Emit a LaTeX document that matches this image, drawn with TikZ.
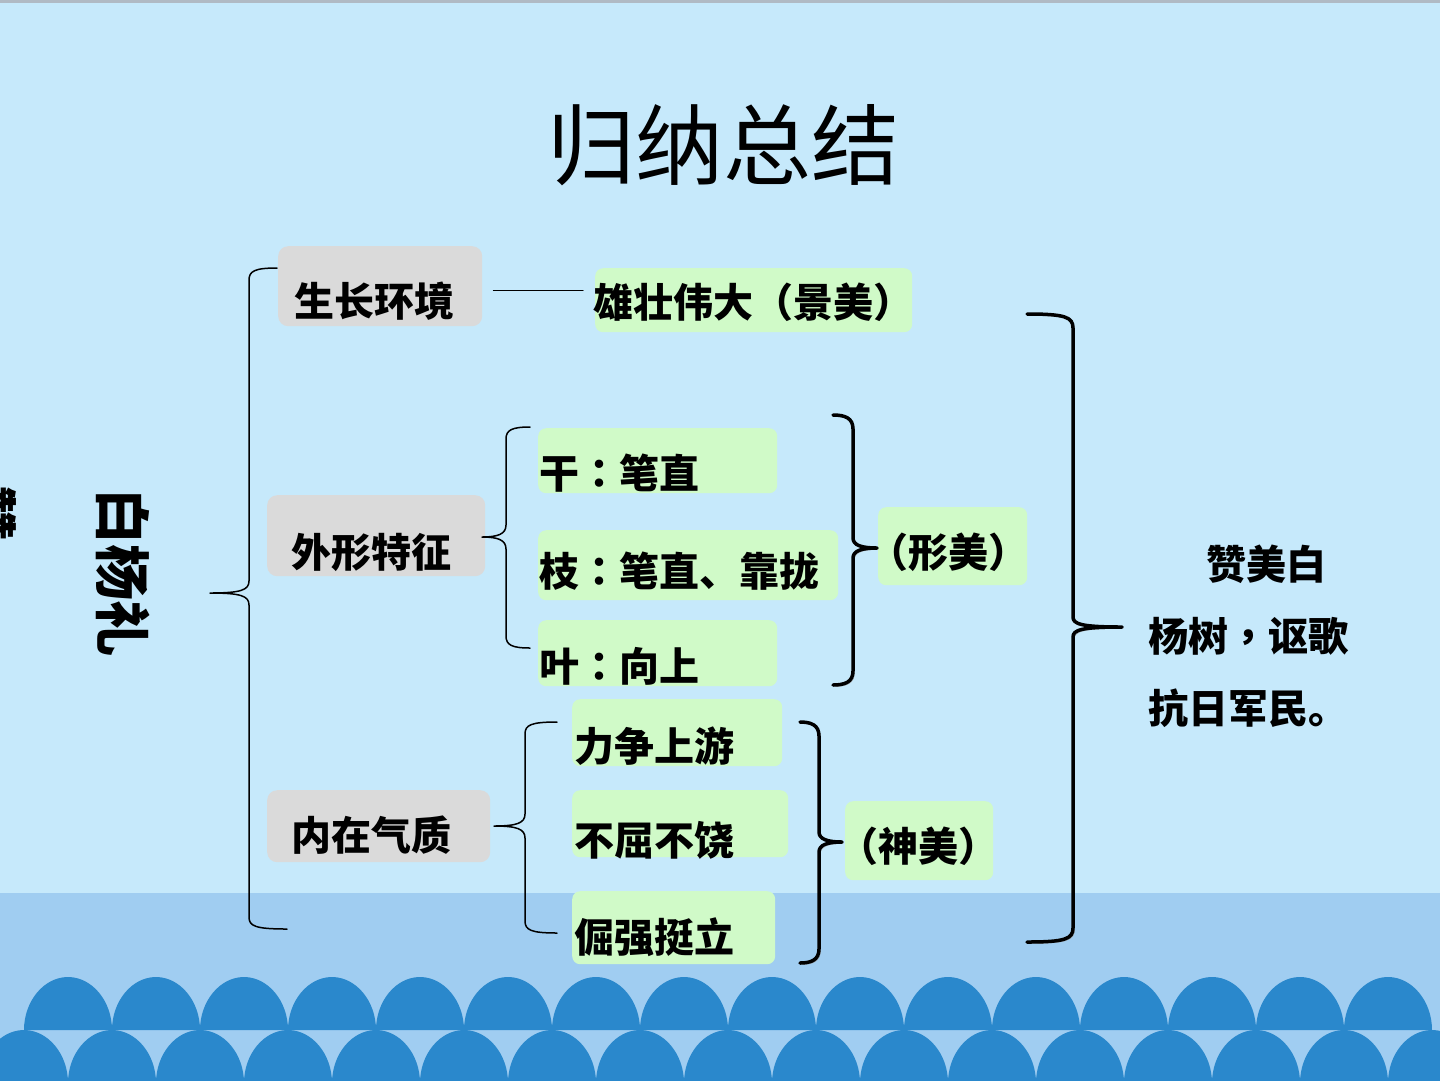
\documentclass[tikz,border=0pt]{standalone}
\usepackage{fontspec}
\newfontfamily\cjkfont{Noto Sans CJK SC}
\newfontfamily\cjkpunct{Noto Sans CJK TC}
\newcommand{\colonmark}{{\cjkpunct ：}}
\usepackage{tikz}
\usetikzlibrary{positioning,calc}
\definecolor{skyblue}{RGB}{198,233,251}
\definecolor{seablue}{RGB}{160,205,241}
\definecolor{wavec}{RGB}{42,136,204}
\definecolor{boxgray}{RGB}{218,218,218}
\definecolor{leafgreen}{RGB}{208,250,200}
\definecolor{edgegray}{RGB}{176,186,196}

\begin{document}
\begin{tikzpicture}[
  x=1pt, y=-1pt, line cap=round, line join=round,
  graybox/.style={rounded corners=10pt, fill=boxgray, anchor=north west, inner sep=0pt},
  greenbox/.style={rounded corners=8pt, fill=leafgreen, anchor=north west, inner sep=0pt},
  lab/.style={font={\cjkfont\bfseries\fontsize{40}{48}\selectfont}, inner sep=0pt, anchor=west},
  biglab/.style={font={\cjkfont\bfseries\fontsize{56}{64}\selectfont}, inner sep=0pt, rotate=-90},
  titlelab/.style={font={\cjkfont\fontsize{88}{100}\selectfont}, inner sep=0pt},
  thinbrace/.style={line width=1.5pt, draw=black},
  thickbrace/.style={line width=3.5pt, draw=black,
    preaction={draw=black!40, transform canvas={xshift=1.5pt, yshift=-1.5pt}}},
  link/.style={line width=1pt, draw=black}
]
  \useasboundingbox (0,0) rectangle (1440,1080);
  \clip (0,0) rectangle (1440,1080);

  % Background
  \fill[skyblue] (0,0) rectangle (1440,893);
  \fill[seablue] (0,893) rectangle (1440,1080);
  \fill[edgegray] (0,0) rectangle (1440,3);

  % Waves (two rows of arches)
  \foreach \i in {0,...,15}{
    \pgfmathsetmacro{\cx}{68+88*\i}
    \fill[wavec] (\cx-44,1030) .. controls (\cx-44,1001) and (\cx-24,977) .. (\cx,977)
      .. controls (\cx+24,977) and (\cx+44,1001) .. (\cx+44,1030) -- cycle;
  }
  \foreach \i in {0,...,16}{
    \pgfmathsetmacro{\cx}{24+88*\i}
    \fill[wavec] (\cx-44,1083) .. controls (\cx-44,1054) and (\cx-24,1030) .. (\cx,1030)
      .. controls (\cx+24,1030) and (\cx+44,1054) .. (\cx+44,1083) -- cycle;
  }

  % Title and side texts
  \node[titlelab] (title) at (723,145) {归纳总结};
  \node[biglab] (praise) at (-10,513) {赞};
  \node[biglab] (poplar) at (123,572) {白杨礼};

  % Gray boxes
  \node[graybox, minimum width=204pt, minimum height=80pt] (envbox) at (278,246) {};
  \node[graybox, minimum width=218pt, minimum height=81pt] (shapebox) at (267,495) {};
  \node[graybox, minimum width=223pt, minimum height=72pt] (innerbox) at (267,790) {};
  \node[lab] (envtext) at ([xshift=16pt, yshift=-15pt]envbox.west) {生长环境};
  \node[lab] (shapetext) at ([xshift=24pt, yshift=-16.5pt]shapebox.west) {外形特征};
  \node[lab] (innertext) at ([xshift=24pt, yshift=-9pt]innerbox.west) {内在气质};

  % Green boxes
  \node[greenbox, minimum width=317pt, minimum height=64pt] (grand) at (595,268) {};
  \node[greenbox, minimum width=239pt, minimum height=65pt] (trunk) at (538,428) {};
  \node[greenbox, minimum width=300pt, minimum height=70pt] (branch) at (538,530) {};
  \node[greenbox, minimum width=239pt, minimum height=66pt] (leaf) at (538,620) {};
  \node[greenbox, minimum width=149pt, minimum height=78pt] (formbeauty) at (878,507) {};
  \node[greenbox, minimum width=210pt, minimum height=67pt] (upstream) at (572,699) {};
  \node[greenbox, minimum width=216pt, minimum height=67pt] (unyield) at (572,790) {};
  \node[greenbox, minimum width=203pt, minimum height=73pt] (upright) at (572,891) {};
  \node[greenbox, minimum width=148pt, minimum height=79pt] (spirit) at (845,801) {};

  \node[lab] (grandtext) at ([xshift=-2pt, yshift=-2pt]grand.west) {雄壮伟大（景美）};
  \node[lab] (trunktext) at ([xshift=1pt, yshift=-12.5pt]trunk.west) {干\colonmark 笔直};
  \node[lab] (branchtext) at ([xshift=1pt, yshift=-6pt]branch.west) {枝\colonmark 笔直、靠拢};
  \node[lab] (leaftext) at ([xshift=1pt, yshift=-13pt]leaf.west) {叶\colonmark 向上};
  \node[lab] (formtext) at ([xshift=-10pt, yshift=-6pt]formbeauty.west) {（形美）};
  \node[lab] (upstreamtext) at ([xshift=2pt, yshift=-13.5pt]upstream.west) {力争上游};
  \node[lab] (unyieldtext) at ([xshift=2pt, yshift=-16.5pt]unyield.west) {不屈不饶};
  \node[lab] (uprighttext) at ([xshift=2pt, yshift=-9.5pt]upright.west) {倔强挺立};
  \node[lab] (spirittext) at ([xshift=-7pt, yshift=-5.5pt]spirit.west) {（神美）};

  % Summary
  \node[lab, anchor=north west, align=left, font={\cjkfont\bfseries\fontsize{40}{72}\selectfont}]
       (summary) at (1148,545) {\hspace*{58pt}赞美白\\杨树{\cjkpunct ，}讴歌\\抗日军民。};

  % Link
  \draw[link] ([xshift=11pt, yshift=-4pt]envbox.east) -- ([xshift=-12pt, yshift=10pt]grand.west);

  % Left braces (thin)
  \foreach \xt/\yt/\xv/\xp/\yp/\xb/\yb in {277/268/249/210/593/287/929,
      530/427/506/482/537/530/648, 557/722/525/494/826/557/933}{
    \draw[thinbrace] (\xt,\yt) .. controls (\xv+6,\yt) and (\xv,\yt+3) .. (\xv,\yt+12)
      -- (\xv,\yp-12) .. controls (\xv,\yp-3) and (\xv-8,\yp) .. (\xp,\yp)
      .. controls (\xv-8,\yp) and (\xv,\yp+3) .. (\xv,\yp+12)
      -- (\xv,\yb-12) .. controls (\xv,\yb-3) and (\xv+6,\yb) .. (\xb,\yb);
  }

  % Right brackets (thick)
  \foreach \xt/\yt/\xv/\xp/\yp/\xb/\yb in {833/415/853/877/548/833/685,
      800/722/819/842/842/800/963, 1027/314/1073/1122/627/1027/942}{
    \draw[thickbrace] (\xt,\yt) .. controls (\xv-8,\yt) and (\xv,\yt+3) .. (\xv,\yt+14)
      -- (\xv,\yp-10) .. controls (\xv,\yp-3) and (\xv+8,\yp) .. (\xp,\yp)
      .. controls (\xv+8,\yp) and (\xv,\yp+3) .. (\xv,\yp+10)
      -- (\xv,\yb-14) .. controls (\xv,\yb-3) and (\xv-8,\yb) .. (\xb,\yb);
  }
\end{tikzpicture}
\end{document}
